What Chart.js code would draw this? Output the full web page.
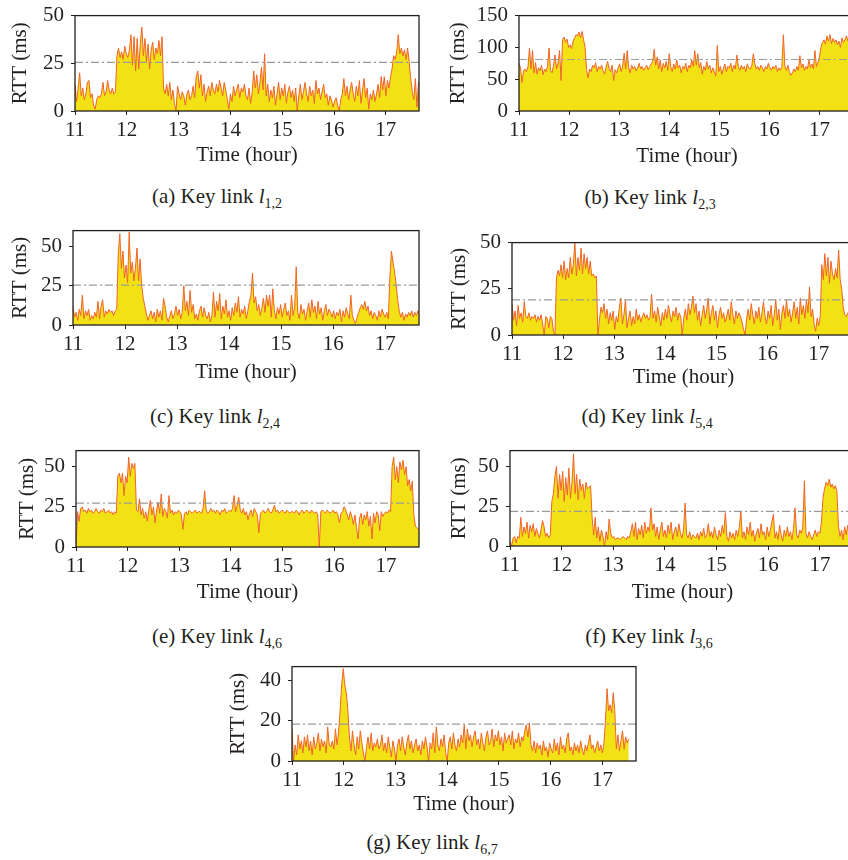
<!DOCTYPE html>
<html>
<head>
<meta charset="utf-8">
<title>RTT of key links</title>
<script src="https://cdn.jsdelivr.net/npm/chart.js@4.4.1/dist/chart.umd.min.js"></script>
<style>
  html, body { margin: 0; padding: 0; background: #fff; }
  body { position: relative; width: 848px; height: 860px; overflow: hidden;
         font-family: "Liberation Serif", "DejaVu Serif", serif; color: #231f20; }
  canvas { position: absolute; }
  .cap { position: absolute; font-size: 21px; line-height: 21px; white-space: nowrap; transform: translate(-50%, -50%); }
  .cap sub { font-size: 14px; line-height: 0; position: relative; top: 5px; vertical-align: baseline; }
</style>
</head>
<body>
<script>
// sampling grid of the RTT traces (hours)
const T0 = 11, DT = 0.03;
const hourTicks = [11, 12, 13, 14, 15, 16, 17];

// RTT (ms), one value per DT
const rttA = [
  14,5,12,20,8,12,6,9,15,16, 7,9,3,1,6,8,7,9,15,8, 10,16,11,9,12,9,10,29,33,28,
  31,27,34,30,28,32,40,24,39,21, 38,22,35,44,29,38,26,35,22,32, 36,27,33,30,37,29,39,12,9,14,
  8,15,6,11,4,0,13,9,6,10, 8,3,9,11,6,8,13,7,18,21, 12,19,8,14,5,10,13,8,15,11,
  9,14,10,16,12,8,15,11,6,1, 9,5,13,8,11,14,7,12,10,14, 8,6,12,4,10,21,12,19,9,15,
  23,11,30,8,14,5,11,7,13,3, 9,15,6,12,8,14,4,10,13,7, 11,5,12,0,8,14,6,10,15,9,
  5,13,8,11,4,16,9,12,6,10, 14,7,9,3,8,6,2,5,7,3, 0,6,9,17,8,13,6,11,15,9,
  5,13,8,16,4,11,17,7,12,1, 9,6,11,5,9,14,7,18,11,18, 8,16,12,18,22,29,27,31,40,30,
  33,29,32,27,33,26,17,10,6,17, 2,15,16
];
const rttB = [
  75,68,45,63,66,62,70,99,66,95, 60,76,58,68,63,72,57,66,62,70, 99,64,60,72,88,66,75,95,48,112,
  116,108,113,100,104,98,110,115,120,118, 124,115,125,112,100,65,52,66,62,72, 68,76,62,70,66,72,63,58,70,78,
  66,62,72,48,65,60,68,74,62,70, 91,66,95,68,60,72,66,70,63,68, 75,66,70,64,68,72,65,70,74,78,
  97,72,85,66,80,62,75,68,78,64, 90,70,62,74,66,80,68,72,60,70, 66,75,62,72,68,80,70,95,72,90,
  68,76,58,70,64,78,66,72,60,68, 62,55,103,62,70,58,66,74,62,70, 68,75,62,72,66,88,70,64,72,66,
  70,62,74,68,66,72,90,74,66,70, 64,72,68,62,70,66,75,68,64,70, 66,72,62,68,64,70,120,70,64,72,
  62,56,60,66,62,70,64,87,68,74, 64,70,66,80,68,74,66,95,70,76, 85,100,108,112,105,118,110,120,106,114,
  108,112,104,110,100,115,108,112,118,110, 115,108,112
];
const rttC = [
  12,5,8,3,10,6,19,4,9,6, 10,3,6,4,8,5,15,4,12,16, 5,9,7,10,8,9,6,9,10,45,
  58,36,47,30,38,27,59,33,40,28, 36,49,28,42,25,17,12,7,3,6, 9,4,8,2,10,5,9,3,17,12,
  5,2,6,9,4,7,12,6,10,4, 8,25,9,15,6,22,8,13,4,7, 3,9,12,5,11,6,4,8,2,6,
  21,5,15,9,20,4,12,7,16,5, 9,3,11,6,14,8,18,5,10,7, 12,4,9,15,19,33,14,18,9,13,
  6,11,17,8,19,12,19,5,23,9, 4,11,7,13,5,10,14,6,9,3, 19,6,11,37,8,4,13,7,10,3,
  9,14,5,16,8,12,4,15,7,11, 3,9,13,6,10,8,5,9,4,8, 6,10,2,9,5,11,7,4,19,6,
  3,1,5,8,11,13,10,15,9,12, 6,9,4,8,6,3,9,5,10,7, 5,8,4,30,47,40,34,26,16,9,
  5,8,3,7,5,8,6,9,5,8, 6,9,7
];
const rttD = [
  17,8,13,5,16,9,12,7,18,10, 9,12,8,10,9,11,7,10,8,11, 6,0,10,9,4,10,9,2,0,31,
  35,32,38,31,40,30,36,31,42,33, 38,50,32,42,35,47,33,44,36,42, 33,40,32,33,31,32,0,8,15,12,
  17,9,14,6,12,8,13,3,10,7, 15,20,6,11,19,4,9,13,5,10, 6,14,8,11,7,10,12,9,11,8,
  10,22,9,13,7,15,10,5,12,8, 14,9,16,11,7,13,10,15,8,12, 10,0,9,14,8,17,11,15,21,12,
  17,8,13,5,11,16,9,14,20,6, 12,16,8,13,4,11,15,9,12,7, 10,14,8,18,11,6,13,9,12,10,
  7,3,0,9,14,8,17,11,6,13, 9,15,7,12,18,10,6,13,9,16, 5,11,19,8,14,3,12,16,9,19,
  10,14,7,12,18,9,15,6,20,11, 16,9,19,12,26,10,14,6,2,9, 5,10,38,30,44,32,42,28,40,33,
  30,36,31,46,30,25,15,11,10,12, 10,11,9
];
const rttE = [
  0,22,16,24,25,22,23,21,24,22, 23,21,22,24,22,21,23,22,24,21, 22,23,21,22,20,22,21,44,46,40,
  46,32,44,40,56,44,52,49,52,23, 22,30,20,24,18,22,16,23,29,20, 25,15,23,28,21,33,19,24,22,18,
  32,21,23,20,22,21,23,22,20,11, 21,22,20,23,22,21,22,23,21,22, 22,21,24,35,23,21,22,24,22,23,
  21,23,22,20,23,22,24,21,22,23, 22,24,32,22,26,31,23,21,24,20, 22,17,21,23,19,24,22,20,9,21,
  22,23,21,22,24,22,21,23,26,22, 23,21,22,23,22,21,23,22,21,22, 22,21,23,22,20,22,23,21,22,23,
  22,21,23,22,21,22,20,0,22,23, 22,21,23,22,21,22,23,21,22,20, 15,21,22,25,23,20,17,22,19,14,
  20,12,5,18,21,14,20,17,22,13, 19,5,21,15,22,20,10,22,19,21, 22,21,23,22,50,56,42,50,40,53,
  48,54,45,50,38,42,35,41,20,13, 12,11,11
];
const rttF = [
  3,0,5,6,2,6,5,18,6,12, 8,15,5,13,9,14,6,11,8,5, 10,16,12,6,8,5,7,28,33,44,
  50,30,45,35,47,28,43,32,49,30, 40,58,33,45,29,42,35,39,30,40, 36,37,38,18,7,18,5,12,3,10,
  6,0,9,4,17,8,5,6,4,5, 5,4,5,6,5,4,6,5,9,14, 6,15,4,11,7,13,5,15,8,12,
  9,24,10,14,6,12,4,10,15,6, 10,5,13,8,15,4,9,12,6,14, 8,5,10,27,7,5,9,4,7,6,
  5,8,4,9,6,11,5,7,14,6, 9,5,12,7,4,10,6,13,8,21, 6,3,9,5,8,4,10,6,12,22,
  5,9,4,12,7,15,6,10,3,8, 11,5,14,7,9,4,12,6,10,15, 20,5,9,4,13,7,3,10,6,12,
  6,9,4,11,24,7,5,10,8,12, 41,8,5,9,6,4,7,10,6,9, 8,15,30,36,40,38,42,37,39,36,
  38,34,12,6,10,4,12,7,13,5, 10,8,12
];
const rttG = [
  16,0,8,3,13,6,10,4,12,7, 13,5,10,3,12,6,9,14,5,11, 7,10,4,17,8,7,10,6,16,8,
  14,25,38,46,38,34,25,12,5,15, 8,3,12,6,15,9,4,0,7,12, 6,14,5,9,7,11,6,8,13,5,
  9,4,12,7,2,10,6,0,8,11, 5,12,7,3,9,13,6,10,4,8, 11,5,8,3,10,6,12,7,0,9,
  6,14,4,17,8,5,11,7,13,4, 0,9,12,6,14,8,5,11,7,13, 9,18,6,16,10,13,7,12,15,8,
  11,6,14,9,5,12,15,8,10,16, 7,13,10,15,8,12,5,14,9,11, 13,8,15,6,11,9,14,7,12,10,
  15,18,12,19,8,5,10,4,9,6, 8,3,10,5,7,2,9,6,4,11, 5,9,3,12,6,8,4,11,14,5,
  7,3,9,5,8,4,10,6,3,8, 5,9,13,6,8,4,7,10,5,8, 4,9,20,36,25,28,24,34,25,6,
  13,5,10,15,6,12,9,11
];

// mean RTT threshold drawn as the dash-dot line (ms)
const thresholds = [25.5, 81, 25.4, 19, 27.3, 21.8, 18.4];
const linkIds = ['1,2', '2,3', '2,4', '5,4', '4,6', '3,6', '6,7'];

// layout of each panel on the page: plot box [left, top, right, bottom]
const panels = [
  { tag: 'a', rtt: rttA, yMax: 50,  yTicks: [0, 25, 50],       xMax: 17.64, box: [75, 10, 419, 111],  yTitleX: 20,  xTitleY: 155, cap: [217, 196] },
  { tag: 'b', rtt: rttB, yMax: 150, yTicks: [0, 50, 100, 150], xMax: 17.71, box: [519, 10, 855, 111], yTitleX: 458, xTitleY: 156, cap: [650, 197] },
  { tag: 'c', rtt: rttC, yMax: 60,  yTicks: [0, 25, 50],       xMax: 17.65, box: [73, 225, 419, 325], yTitleX: 20,  xTitleY: 372, cap: [215, 416] },
  { tag: 'd', rtt: rttD, yMax: 50,  yTicks: [0, 25, 50],       xMax: 17.71, box: [512, 237, 855, 335], yTitleX: 459, xTitleY: 377, cap: [647, 416] },
  { tag: 'e', rtt: rttE, yMax: 60,  yTicks: [0, 25, 50],       xMax: 17.64, box: [76, 445, 419, 547], yTitleX: 27,  xTitleY: 592, cap: [217, 636] },
  { tag: 'f', rtt: rttF, yMax: 60,  yTicks: [0, 25, 50],       xMax: 17.68, box: [510, 445, 855, 546], yTitleX: 459, xTitleY: 592, cap: [649, 636] },
  { tag: 'g', rtt: rttG, yMax: 47,  yTicks: [0, 20, 40],       xMax: 17.65, box: [292, 661, 636, 761], yTitleX: 238, xTitleY: 804, cap: [432, 842] }
];

const YW = 80, PADT = 14, PADR = 10, XH = 62;
const INK = '#231f20';
const FONT = { family: 'Liberation Serif', size: 21 };
const HALF_LINE = FONT.size * 0.6;

Chart.defaults.font.family = 'Liberation Serif';
Chart.defaults.color = INK;

// box round the plot area
const frame = {
  id: 'frame',
  afterDraw(chart) {
    const { ctx, chartArea: a } = chart;
    ctx.save();
    ctx.strokeStyle = INK;
    ctx.lineWidth = 1.3;
    ctx.strokeRect(a.left, a.top, a.right - a.left, a.bottom - a.top);
    ctx.restore();
  }
};

panels.forEach((p, k) => {
  const [L, T, R, B] = p.box;
  const w = R - L + YW + PADR, h = B - T + PADT + XH;
  const cv = document.createElement('canvas');
  cv.width = w; cv.height = h;
  cv.style.left = (L - YW) + 'px';
  cv.style.top = (T - PADT) + 'px';
  document.body.appendChild(cv);

  const pts = p.rtt.map((v, i) => ({ x: T0 + i * DT, y: v }));

  new Chart(cv, {
    type: 'line',
    data: {
      datasets: [
        {
          data: [{ x: 11, y: thresholds[k] }, { x: p.xMax, y: thresholds[k] }],
          borderColor: '#9b9b9b', borderWidth: 1.2, borderDash: [8, 3, 2, 3],
          pointRadius: 0, fill: false, order: 0
        },
        {
          data: pts,
          borderColor: '#f06428', backgroundColor: '#f2e114',
          borderWidth: 1, borderJoinStyle: 'bevel',
          pointRadius: 0, tension: 0, fill: 'origin', order: 1
        }
      ]
    },
    options: {
      responsive: false,
      animation: false,
      events: [],
      layout: { padding: { top: PADT, right: PADR, left: 0, bottom: 0 } },
      plugins: { legend: { display: false }, tooltip: { enabled: false } },
      scales: {
        x: {
          type: 'linear', min: 11, max: p.xMax,
          afterBuildTicks: s => { s.ticks = hourTicks.map(v => ({ value: v })); },
          afterFit: s => { s.height = XH; },
          border: { display: false },
          grid: { drawOnChartArea: false, drawTicks: true, tickLength: 4, tickColor: INK },
          ticks: { color: INK, font: FONT, padding: 3, maxRotation: 0, autoSkip: false },
          title: {
            display: true, text: 'Time (hour)', color: INK, font: FONT,
            padding: { top: 0, bottom: (B + XH) - p.xTitleY - HALF_LINE }
          }
        },
        y: {
          min: 0, max: p.yMax,
          afterBuildTicks: s => { s.ticks = p.yTicks.map(v => ({ value: v })); },
          afterFit: s => { s.width = YW; },
          border: { display: false },
          grid: { drawOnChartArea: false, drawTicks: true, tickLength: 4, tickColor: INK },
          ticks: { color: INK, font: FONT, padding: 7 },
          title: {
            display: true, text: 'RTT (ms)', color: INK, font: FONT,
            padding: { top: p.yTitleX - (L - YW) - HALF_LINE, bottom: 0 }
          }
        }
      }
    },
    plugins: [frame]
  });

  const cap = document.createElement('div');
  cap.className = 'cap';
  cap.style.left = p.cap[0] + 'px';
  cap.style.top = p.cap[1] + 'px';
  cap.innerHTML = '(' + p.tag + ') Key link <i>l</i><sub>' + linkIds[k] + '</sub>';
  document.body.appendChild(cap);
});
</script>
</body>
</html>
